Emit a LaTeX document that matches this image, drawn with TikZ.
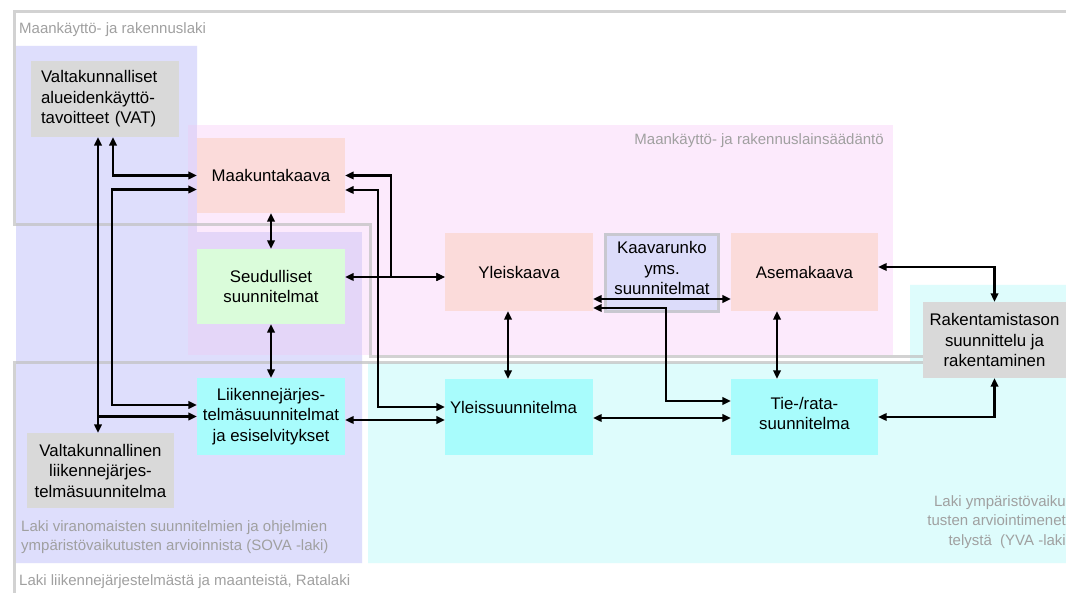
\documentclass[tikz,border=0pt]{standalone}
\usepackage{fontspec}
\setmainfont{Liberation Sans}
\usetikzlibrary{arrows.meta}
\definecolor{boxgray}{RGB}{217,217,217}
\definecolor{pinkbox}{RGB}{251,219,218}
\definecolor{greenbox}{RGB}{218,252,218}
\definecolor{cyanbox}{RGB}{168,252,252}
\definecolor{lavreg}{RGB}{222,222,252}
\definecolor{pinkreg}{RGB}{252,234,252}
\definecolor{overlapreg}{RGB}{228,214,248}
\definecolor{cyanreg}{RGB}{222,252,252}
\definecolor{krfill}{RGB}{220,220,250}
\definecolor{krborder}{RGB}{200,200,208}
\definecolor{framegray}{RGB}{195,195,195}
\definecolor{lblgray}{RGB}{160,160,160}
\begin{document}
\begin{tikzpicture}[x=1pt,y=-1pt,
  box/.style={inner sep=0pt, minimum width=148pt, minimum height=76pt, align=center,
              font=\fontsize{16.8}{20.5}\selectfont},
  lbl/.style={text=lblgray, font=\fontsize{15}{19.5}\selectfont, inner sep=0pt},
  bi/.style={line width=2.3pt, {Triangle[length=8.5pt,width=7.5pt]}-{Triangle[length=8.5pt,width=7.5pt]}},
  arr/.style={line width=2.3pt, -{Triangle[length=8.5pt,width=7.5pt]}},
  frame/.style={draw=framegray, draw opacity=0.75, line width=3pt}
]
\useasboundingbox (0,0) rectangle (1066,593);
\clip (0,0) rectangle (1066,593);
\fill[white] (0,0) rectangle (1066,593);
% regions
\fill[lavreg] (16,46) -- (197,46) -- (197,232) -- (362,232) -- (362,563) -- (16,563) -- cycle;
\fill[pinkreg] (188,125) rectangle (893,355);
\fill[overlapreg] (188,125) rectangle (197,232);
\fill[overlapreg] (188,232) rectangle (362,355);
\fill[cyanreg] (368,363) -- (910,363) -- (910,285) -- (1070,285) -- (1070,563) -- (368,563) -- cycle;
% frames
\draw[frame] (14,12) -- (1075,12) -- (1075,357) -- (370,357) -- (370,225) -- (14,225) -- cycle;
\draw[frame] (14,363) -- (1075,363) -- (1075,600) -- (14,600) -- cycle;
% labels
\node[lbl, anchor=west] (l1) at (19,30) {Maankäyttö- ja rakennuslaki};
\node[lbl, anchor=east] (l2) at (884,141) {Maankäyttö- ja rakennuslainsäädäntö};
\node[lbl, anchor=west, align=left] (l3) at (21,537) {Laki viranomaisten suunnitelmien ja ohjelmien\\ympäristövaikutusten arvioinnista (SOVA -laki)};
\node[lbl, anchor=west] (l4) at (19,582) {Laki liikennejärjestelmästä ja maanteistä, Ratalaki};
\node[lbl, anchor=east, align=right] (l5) at (1066,522) {Laki ympäristövaiku\\tusten arviointimenet\\telystä~~(YVA -laki};
% nodes
\node[box, fill=boxgray, text width=128pt, inner xsep=10pt, align=left] (vat) at (105,99) {Valtakunnalliset\\alueidenkäyttö-\\tavoitteet (VAT)};
\node[box, fill=pinkbox, minimum height=75pt] (mk) at (271,175.5) {Maakuntakaava};
\node[box, fill=greenbox, minimum height=75pt] (seu) at (271,286.5) {Seudulliset\\suunnitelmat};
\node[box, fill=cyanbox, minimum height=77pt] (lj) at (271,416.5) {Liikennejärjes-\\telmäsuunnitelmat\\ja esiselvitykset};
\node[box, fill=boxgray, minimum width=147pt, minimum height=75pt] (vl) at (100.5,470.5) {Valtakunnallinen\\liikennejärjes-\\telmäsuunnitelma};
\node[box, fill=pinkbox, minimum height=78pt] (yk) at (519,272) {Yleiskaava};
\node[box, fill=krfill, draw=krborder, line width=3pt, minimum width=113pt, minimum height=77pt] (kr) at (662,273) {Kaavarunko\\yms.\\suunnitelmat\\[-11pt]\mbox{}};
\node[box, fill=pinkbox, minimum width=147pt, minimum height=78pt] (ak) at (804.5,272) {Asemakaava};
\node[box, fill=boxgray, minimum width=143pt] (rk) at (994.5,340) {Rakentamistason\\suunnittelu ja\\rakentaminen};
\node[box, fill=cyanbox] (ys) at (519,417) {};
\node[anchor=west, inner sep=0pt, font=\fontsize{16.8}{20.5}\selectfont] (ystext) at ([xshift=5pt,yshift=10pt]ys.west) {Yleissuunnitelma};
\node[box, fill=cyanbox, minimum width=147pt] (tr) at (804.5,417) {Tie-/rata-\\suunnitelma\\[-13pt]\mbox{}};
% connectors
\draw[bi] ([xshift=-7pt]vat.south) -- ([xshift=-7pt]vat.south |- vl.north);
\draw[arr] ([xshift=-7pt]vat.south |- lj.west) -- (lj.west);
\draw[bi] ([xshift=8pt]vat.south) |- (mk.west);
\draw[bi] ([yshift=-14pt]mk.west) -| ([xshift=-85pt,yshift=11.5pt]lj.west) -- ([yshift=11.5pt]lj.west);
\draw[bi] (mk.south) -- (seu.north);
\draw[bi] (seu.south) -- (lj.north);
\coordinate (ykin) at ([yshift=-5pt]yk.west);
\draw[bi] (mk.east) -| ([xshift=-54pt]ykin) -- (ykin);
\draw[bi] (seu.east |- ykin) -- (ykin);
\draw[bi] ([yshift=-14.5pt]mk.east) -| ([xshift=-67pt,yshift=10pt]ys.west) -- ([yshift=10pt]ys.west);
\draw[bi] ([yshift=-3.5pt]lj.east) -- ([yshift=-3.5pt]lj.east -| ys.west);
\draw[bi] ([xshift=-11pt]yk.south) -- ([xshift=-11pt]yk.south |- ys.north);
\draw[bi] ([yshift=-27pt]yk.east) -- ([yshift=-27pt]yk.east -| ak.west);
\draw[bi] ([yshift=-36pt]yk.east) -| ([xshift=-65pt,yshift=16pt]tr.west) -- ([yshift=16pt]tr.west);
\draw[bi] ([yshift=-1pt]ys.east) -- ([yshift=-1pt]ys.east -| tr.west);
\draw[bi] ([xshift=-27.5pt]ak.south) -- ([xshift=-27.5pt]ak.south |- tr.north);
\draw[bi] ([yshift=5pt]ak.east) -| (rk.north);
\draw[bi] (tr.east) -| (rk.south);
\end{tikzpicture}
\end{document}
